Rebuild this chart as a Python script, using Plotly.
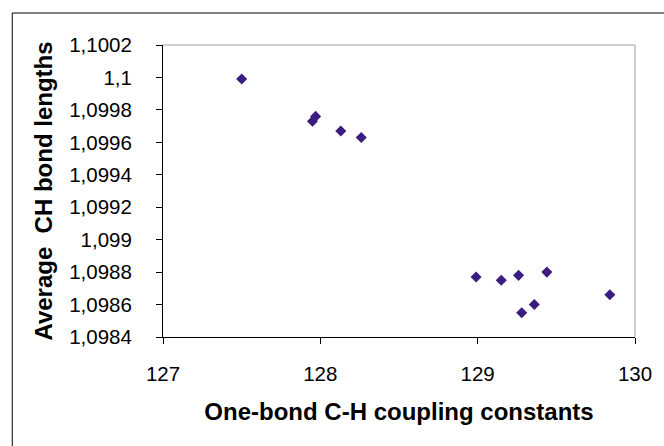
import plotly.graph_objects as go

coupling = [127.50, 127.95, 127.97, 128.13, 128.26, 128.99, 129.15, 129.26, 129.44, 129.28, 129.36, 129.84]
bond_len = [1.09999, 1.09973, 1.09976, 1.09967, 1.09963, 1.09877, 1.09875, 1.09878, 1.09880, 1.09855, 1.09860, 1.09866]

x_ticks = [127, 128, 129, 130]
x_ticktext = ["127", "128", "129", "130"]
y_ticks = [1.0984, 1.0986, 1.0988, 1.0990, 1.0992, 1.0994, 1.0996, 1.0998, 1.1000, 1.1002]
y_ticktext = ["1,0984", "1,0986", "1,0988", "1,099", "1,0992", "1,0994", "1,0996", "1,0998", "1,1", "1,1002"]

W, H = 664, 446
L, R, T, B = 163, 639, 45, 337

fig = go.Figure(go.Scatter(
    x=coupling, y=bond_len, mode="markers",
    marker=dict(symbol="diamond", size=8.5, color="#3B1C80", line=dict(width=0)),
    hoverinfo="x+y",
))

font = "Liberation Sans, Arial, sans-serif"
fig.update_layout(
    width=W, height=H,
    margin=dict(l=L, r=W - R, t=T, b=H - B, pad=0),
    paper_bgcolor="white", plot_bgcolor="white",
    showlegend=False,
    font=dict(family=font, size=20.5, color="black"),
    xaxis=dict(range=[127, 130], tickvals=x_ticks, ticktext=x_ticktext,
               showgrid=False, zeroline=False, showline=True, linecolor="black", linewidth=1,
               ticks="outside", ticklen=6, tickcolor="black", ticklabelstandoff=12,
               title=dict(text="<b>One-bond C-H coupling constants</b>", font=dict(size=24), standoff=19)),
    yaxis=dict(range=[1.0984, 1.1002], tickvals=y_ticks, ticktext=y_ticktext,
               showgrid=False, zeroline=False, showline=True, linecolor="black", linewidth=1,
               ticks="outside", ticklen=6, tickcolor="black", ticklabelstandoff=20,
               title=dict(text="<b>Average  CH bond lengths</b>", font=dict(size=24), standoff=9)),
)

pw, ph = R - L, B - T
def px(x): return (x - L) / pw
def py(y): return (B - y) / ph

# grey top and right plot borders
fig.add_shape(type="line", xref="paper", yref="paper", x0=0, x1=1, y0=1, y1=1,
              line=dict(color="#A0A0A0", width=1))
fig.add_shape(type="line", xref="paper", yref="paper", x0=1, x1=1, y0=0, y1=1,
              line=dict(color="#A0A0A0", width=1))
# outer chart border (right and bottom edges fall outside the picture)
fig.add_shape(type="rect", xref="paper", yref="paper",
              x0=px(11), x1=px(700), y0=py(480), y1=py(13),
              line=dict(color="black", width=1), fillcolor="rgba(0,0,0,0)")

fig.write_html("out.html", config={"displayModeBar": False},
               post_script="document.body.style.margin='0';")
